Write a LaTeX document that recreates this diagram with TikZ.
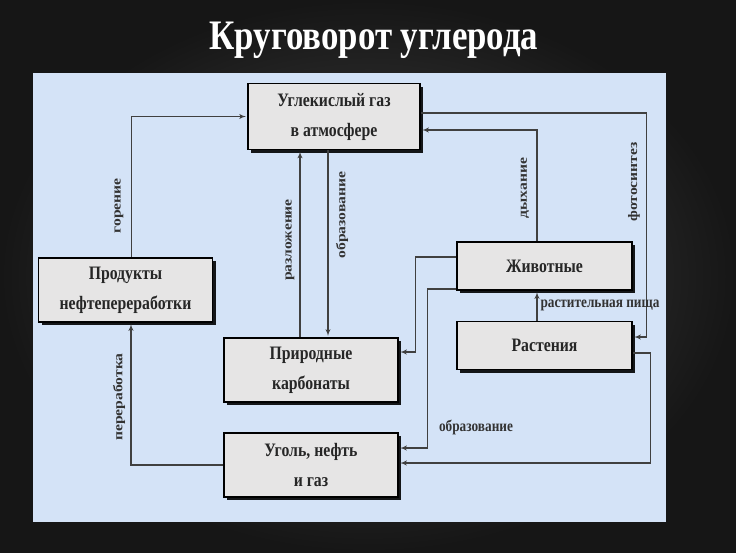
\documentclass[tikz,border=0pt]{standalone}
\usepackage{fontspec}
\setmainfont{Liberation Serif}
\newfontfamily\tallfont[FakeStretch=0.83]{Liberation Serif}
\newfontfamily\widefont[FakeStretch=1.2]{Liberation Serif}
\usetikzlibrary{arrows,calc,shadows}

\definecolor{slidebg}{RGB}{72,72,72}
\definecolor{slideedge}{RGB}{22,22,22}
\definecolor{panelblue}{RGB}{212,227,247}
\definecolor{boxgray}{RGB}{230,229,229}

\tikzset{
  stage/.style={draw=black, line width=1.1pt, fill=boxgray, align=center,
    font=\tallfont\bfseries\fontsize{19}{30}\selectfont, text=black!85,
    drop shadow={shadow xshift=3pt, shadow yshift=-3pt, fill=black, opacity=0.9}},
  flow/.style={->, line width=1.3pt, draw=black!75, shorten >=1.5pt},
  lbl/.style={font=\tallfont\bfseries\fontsize{16}{18}\selectfont, text=black!80, inner sep=1pt},
  vlbl/.style={font=\widefont\bfseries\fontsize{13}{15}\selectfont, text=black!80, inner sep=1pt, rotate=90},
}

\begin{document}
\begin{tikzpicture}[x=1pt,y=-1pt,>=latex']
  \useasboundingbox (0,0) rectangle (736,552);
  \fill[inner color=slidebg, outer color=slideedge] (0,0) rectangle (736,552);
  \node[text=white, font=\tallfont\bfseries\fontsize{42}{48}\selectfont] (title) at (374,40) {Круговорот углерода};
  \fill[panelblue] (33,73) rectangle (666,522);

  % блоки
  \node[stage, minimum width=172pt, minimum height=66pt] (co2) at (334,116.5) {Углекислый газ\\в атмосфере};
  \node[stage, minimum width=174pt, minimum height=64pt] (prod) at (125.5,290) {Продукты\\нефтепереработки};
  \node[stage, minimum width=174pt, minimum height=64pt] (carb) at (311,370) {Природные\\карбонаты};
  \node[stage, minimum width=174pt, minimum height=64pt] (coal) at (311,465) {Уголь, нефть\\и газ};
  \node[stage, minimum width=175pt, minimum height=48pt] (anim) at (544.5,266) {Животные};
  \node[stage, minimum width=175pt, minimum height=48pt] (plant) at (544.5,345.5) {Растения};

  % связи
  \draw[flow] ($(prod.north)+(6,0)$) |- (co2.west);
  \coordinate (dec) at ($(carb.north)+(-11,0)$);
  \draw[flow] (dec) -- (dec |- co2.south);
  \coordinate (form) at ($(co2.south)+(-6,0)$);
  \draw[flow] (form) -- (form |- carb.north);
  \draw[flow] ($(co2.east)+(0,-3.5)$) -- ++(226,0) |- ($(plant.east)+(0,-8.5)$);
  \draw[flow] ($(anim.north)+(-7.5,0)$) |- ($(co2.east)+(0,13.5)$);
  \draw[flow] ($(plant.north)+(-7.5,0)$) -- ($(anim.south)+(-7.5,0)$);
  \draw[flow] ($(anim.west)+(0,-9)$) -- ++(-41,0) |- ($(carb.east)+(0,-18)$);
  \draw[flow] ($(anim.west)+(0,23)$) -- ++(-29,0) |- ($(coal.east)+(0,-17)$);
  \draw[flow] ($(plant.east)+(0,7.5)$) -- ++(18,0) |- ($(coal.east)+(0,-2)$);
  \draw[flow] (coal.west) -| ($(prod.south)+(5.5,0)$);

  % подписи
  \node[vlbl] (lgor) at (119,206) {горение};
  \node[vlbl] (lrazl) at (290,240) {разложение};
  \node[vlbl] (lobr) at (342,215) {образование};
  \node[vlbl] (ldyh) at (525,188) {дыхание};
  \node[vlbl] (lfoto) at (634,182) {фотосинтез};
  \node[vlbl] (lper) at (119,397) {переработка};
  \node[lbl] (lpisha) at (600,305) {растительная пища};
  \node[lbl] (lobr2) at (476,427) {образование};
\end{tikzpicture}
\end{document}
